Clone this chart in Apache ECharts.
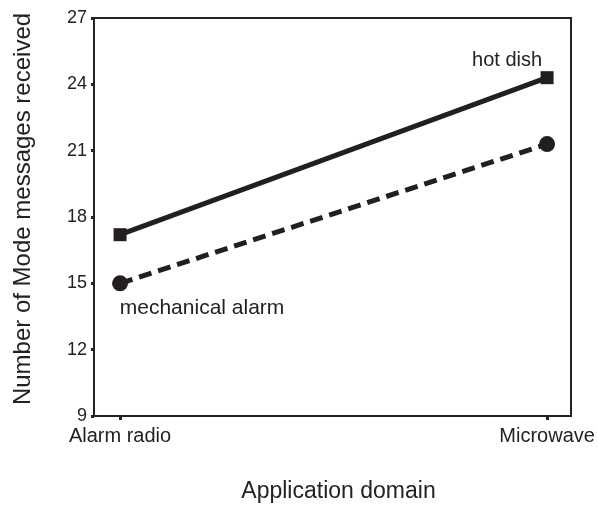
<!DOCTYPE html>
<html>
<head>
<meta charset="utf-8">
<script src="https://cdn.jsdelivr.net/npm/echarts@6/dist/echarts.min.js"></script>
<style>html,body{margin:0;padding:0;background:#fff}#c{width:598px;height:508px}</style>
</head>
<body>
<div id="c"></div>
<script>
const categories = ["Alarm radio", "Microwave"];
const hotDish = [17.2, 24.3];
const mechanicalAlarm = [15.0, 21.3];
const seriesNames = ["hot dish", "mechanical alarm"];
const yTicks = [9, 12, 15, 18, 21, 24, 27];

const chart = echarts.init(document.getElementById('c'), null, {renderer: 'canvas'});
const font = "'Liberation Sans', Arial, sans-serif";
const toPts = arr => arr.map((v, i) => [i, v]);

chart.setOption({
  animation: false,
  backgroundColor: '#fff',
  textStyle: {fontFamily: font},
  grid: {left: 94, right: 27, top: 18, bottom: 90, show: true, borderColor: '#222', borderWidth: 2, backgroundColor: 'transparent'},
  xAxis: {
    type: 'value', min: -0.061, max: 1.056,
    name: 'Application domain', nameLocation: 'middle', nameGap: 64,
    nameTextStyle: {fontSize: 23, color: '#222', fontFamily: font, padding: [0, 0, 0, 12]},
    axisLine: {show: true, onZero: false, lineStyle: {color: '#222', width: 2}},
    axisTick: {show: true, customValues: [0, 1], length: 4, lineStyle: {color: '#222', width: 3}},
    axisLabel: {customValues: [0, 1], fontSize: 20, color: '#222', margin: 10, fontFamily: font,
      formatter: v => categories[Math.round(v)]},
    splitLine: {show: false}
  },
  yAxis: {
    type: 'value', min: yTicks[0], max: yTicks[yTicks.length - 1], interval: 3,
    name: 'Number of Mode messages received', nameLocation: 'middle', nameGap: 59,
    nameTextStyle: {fontSize: 24, color: '#222', fontFamily: font, padding: [0, 0, 0, 16]},
    axisLine: {show: true, onZero: false, lineStyle: {color: '#222', width: 2}},
    axisTick: {show: true, length: 3, lineStyle: {color: '#222', width: 3}},
    axisLabel: {fontSize: 18, color: '#222', margin: 7, fontFamily: font},
    splitLine: {show: false}
  },
  series: [
    {
      name: seriesNames[0], type: 'line', data: toPts(hotDish),
      symbol: 'rect', symbolSize: 13, showAllSymbol: true,
      lineStyle: {color: '#231f20', width: 5, type: 'solid'},
      itemStyle: {color: '#231f20'},
      label: {show: true, position: 'top', distance: 1, offset: [-40, 0], fontSize: 20, color: '#222', fontFamily: font,
        formatter: p => p.dataIndex === 1 ? seriesNames[0] : ''}
    },
    {
      name: seriesNames[1], type: 'line', data: toPts(mechanicalAlarm),
      symbol: 'circle', symbolSize: 16, showAllSymbol: true,
      lineStyle: {color: '#231f20', width: 5, type: [13, 7]},
      itemStyle: {color: '#231f20'},
      label: {show: true, position: 'bottom', distance: 6, offset: [82, 0], fontSize: 21, color: '#222', fontFamily: font,
        formatter: p => p.dataIndex === 0 ? seriesNames[1] : ''}
    }
  ]
});
</script>
</body>
</html>
